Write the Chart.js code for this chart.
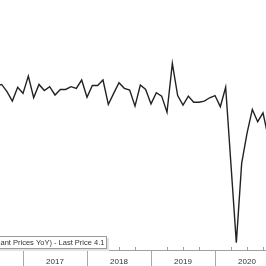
<!DOCTYPE html>
<html>
<head>
<meta charset="utf-8">
<script src="https://cdn.jsdelivr.net/npm/chart.js@4/dist/chart.umd.min.js"></script>
<style>
  html, body { margin: 0; padding: 0; background: #fff; }
  #wrap { width: 266px; height: 266px; }
</style>
</head>
<body>
<div id="wrap"><canvas id="chart"></canvas></div>
<script>
// monthly readings, Jul 2016 .. Oct 2020
var months = [
    "2016-07","2016-08","2016-09","2016-10","2016-11","2016-12",
    "2017-01","2017-02","2017-03","2017-04","2017-05","2017-06",
    "2017-07","2017-08","2017-09","2017-10","2017-11","2017-12",
    "2018-01","2018-02","2018-03","2018-04","2018-05","2018-06",
    "2018-07","2018-08","2018-09","2018-10","2018-11","2018-12",
    "2019-01","2019-02","2019-03","2019-04","2019-05","2019-06",
    "2019-07","2019-08","2019-09","2019-10","2019-11","2019-12",
    "2020-01","2020-02","2020-03","2020-04","2020-05","2020-06",
    "2020-07","2020-08","2020-09","2020-10"
];
var values = [
    4.5, 4.8, 3.5, 1.8, 4.3, 3.2,
    6.3, 2.4, 4.8, 3.7, 4.4, 2.9,
    3.9, 3.9, 4.4, 4.1, 5.6, 2.5,
    4.6, 4.6, 5.6, 1.2, 3.2, 5.1,
    4.1, 3.8, 0.9, 4.7, 3.9, 1.3,
    3.3, 2.7, -0.2, 8.6, 2.8, 1.1,
    2.7, 1.6, 1.6, 1.8, 2.4, 2.8,
    0.8, 4.3, -9.7, -23.7, -9.4, -4.0,
    0.3, -1.9, -0.3, -4.8
];
var yearLabels = ["2017", "2018", "2019", "2020"];
var legendText = "ant Prices YoY) - Last Price 4.1";

// month number counted from the start of 2017 (Dec 2016 sits on the boundary)
function monthPos(s) {
    var p = s.split("-");
    return (parseInt(p[0]) - 2017) * 12 + parseInt(p[1]);
}

var points = [];
for (var i = 0; i < months.length; i++) {
    points.push({x: monthPos(months[i]), y: values[i]});
}

var quarterTicks = {
    id: "quarterTicks",
    afterDraw: function(chart) {
        var ctx = chart.ctx;
        var xs = chart.scales.x;
        ctx.save();
        ctx.strokeStyle = "#a0a0a0";
        ctx.lineWidth = 1;
        for (var m = -12; m <= 48; m += 3) {
            if (m % 12 == 0) continue;
            var px = Math.round(xs.getPixelForValue(m)) + 0.5;
            if (px < 0 || px > chart.width) continue;
            ctx.beginPath();
            ctx.moveTo(px, xs.top);
            ctx.lineTo(px, xs.top - 3);
            ctx.stroke();
        }
        ctx.restore();
    }
};

var legendBox = {
    id: "legendBox",
    afterDraw: function(chart) {
        var ctx = chart.ctx;
        ctx.save();
        ctx.fillStyle = "#e4e4e4";
        ctx.fillRect(0, 238, 109, 13);
        ctx.fillStyle = "#fff";
        ctx.fillRect(-1, 237, 108, 12);
        ctx.strokeStyle = "#9a9a9a";
        ctx.lineWidth = 1;
        ctx.strokeRect(-0.5, 236.5, 107, 12);
        ctx.fillStyle = "#333";
        ctx.font = "7.5px 'Liberation Sans'";
        ctx.textBaseline = "middle";
        ctx.fillText(legendText, 0.5, 243);
        ctx.restore();
    }
};

var ctx = document.getElementById("chart").getContext("2d");
var myChart = new Chart(ctx, {
    type: "line",
    data: {
        datasets: [{
            label: legendText,
            data: points,
            borderColor: "#222",
            borderWidth: 1.4,
            backgroundColor: "transparent",
            pointRadius: 0,
            tension: 0
        }]
    },
    options: {
        responsive: true,
        maintainAspectRatio: false,
        animation: false,
        events: [],
        layout: { padding: 0 },
        plugins: { legend: { display: false }, tooltip: { enabled: false } },
        scales: {
            x: {
                type: "linear",
                min: -4.3125,
                max: 45.5625,
                afterBuildTicks: function(scale) {
                    scale.ticks = [6, 18, 30, 42].map(function(v) { return {value: v}; });
                },
                afterFit: function(scale) { scale.height = 16; },
                ticks: {
                    autoSkip: false,
                    maxRotation: 0,
                    padding: -9,
                    color: "#333",
                    font: { family: "Liberation Sans", size: 8 },
                    callback: function(value, index) { return yearLabels[index]; }
                },
                grid: {
                    offset: true,
                    drawOnChartArea: false,
                    tickLength: 16,
                    color: "#a8a8a8"
                },
                border: { display: true, color: "#a0a0a0" }
            },
            y: {
                display: false,
                min: -25,
                max: 20
            }
        }
    },
    plugins: [quarterTicks, legendBox]
});
</script>
</body>
</html>
